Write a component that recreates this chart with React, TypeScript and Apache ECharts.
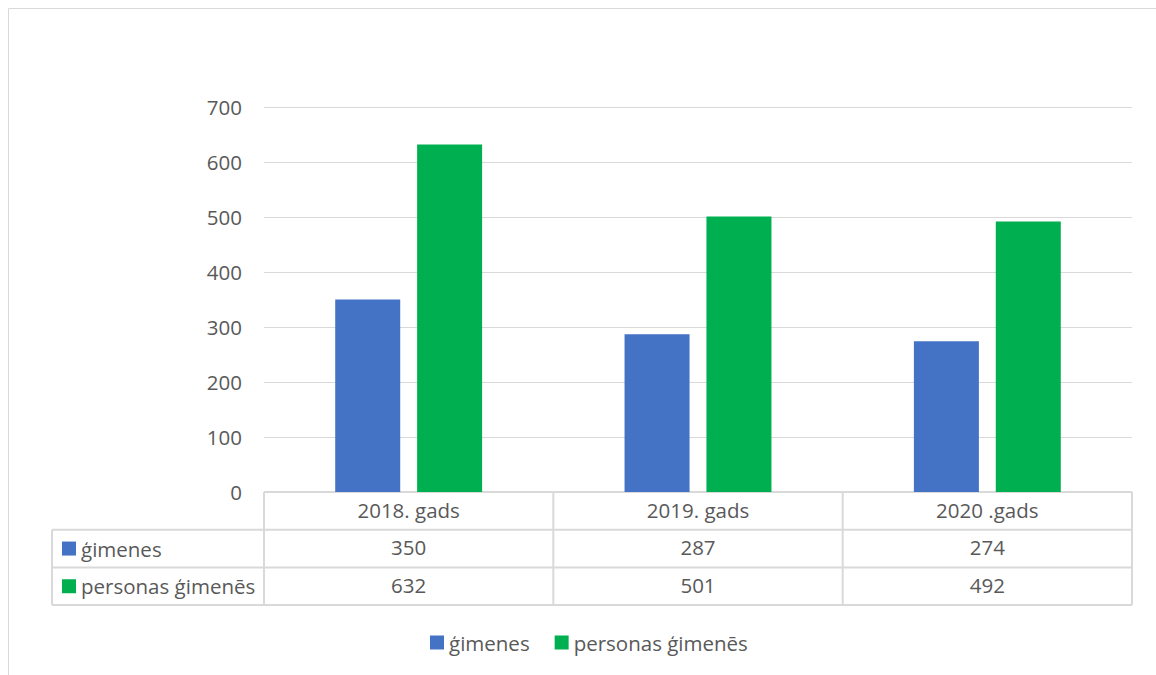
import React, { useEffect, useRef } from "react";
import * as echarts from "echarts";

const categories = ["2018. gads", "2019. gads", "2020 .gads"];
const seriesNames = ["ģimenes", "personas ģimenēs"];
const familyValues = [350, 287, 274];
const personValues = [632, 501, 492];
const colors = ["#4472C4", "#00B050"];

const W = 1156;
const H = 675;
const GL = 264;
const GR = 1132;
const GT = 107;
const GB = 492;
const ROW = 37.7;
const TABLE_LEFT = 52;
const FONT = "'Open Sans', sans-serif";
const FS = 20.5;
const TXT = "#595959";
const LINE = "#d9d9d9";

export default function App() {
  const ref = useRef<HTMLDivElement>(null);
  useEffect(() => {
    if (!ref.current) return;
    const chart = echarts.init(ref.current, null, { renderer: "svg" });
    const catW = (GR - GL) / categories.length;
    const rows = [GB, GB + ROW, GB + 2 * ROW, GB + 3 * ROW];
    const graphics: any[] = [];
    graphics.push({
      type: "rect",
      shape: { x: 8.5, y: 8.5, width: 1200, height: 720 },
      style: { fill: "none", stroke: LINE, lineWidth: 1 },
      silent: true,
    });
    graphics.push({ type: "line", shape: { x1: GL, y1: rows[0], x2: GR, y2: rows[0] }, style: { stroke: LINE, lineWidth: 2 } });
    for (let i = 1; i < 4; i++) {
      graphics.push({ type: "line", shape: { x1: TABLE_LEFT, y1: rows[i], x2: GR, y2: rows[i] }, style: { stroke: LINE, lineWidth: 2 } });
    }
    graphics.push({ type: "line", shape: { x1: TABLE_LEFT, y1: rows[1], x2: TABLE_LEFT, y2: rows[3] }, style: { stroke: LINE, lineWidth: 2 } });
    for (let i = 0; i <= categories.length; i++) {
      const x = GL + i * catW;
      graphics.push({ type: "line", shape: { x1: x, y1: rows[0], x2: x, y2: rows[3] }, style: { stroke: LINE, lineWidth: 2 } });
    }
    seriesNames.forEach((name, i) => {
      const yc = (rows[i + 1] + rows[i + 2]) / 2;
      graphics.push({ type: "rect", shape: { x: 62, y: yc - 7, width: 14, height: 14 }, style: { fill: colors[i] } });
      graphics.push({
        type: "text",
        x: 81,
        y: yc,
        style: { text: name, font: `${FS}px ${FONT}`, fill: TXT, verticalAlign: "middle", align: "left" },
      });
    });

    const valueRows = [familyValues, personValues];
    const xAxes: any[] = [
      {
        type: "category",
        data: categories,
        position: "bottom",
        axisLine: { show: false },
        axisTick: { show: false },
        axisLabel: { color: TXT, fontSize: FS, fontFamily: FONT, margin: 7, interval: 0 },
      },
      ...valueRows.map((vals, i) => ({
        type: "category",
        data: vals.map(String),
        position: "bottom",
        offset: ROW * (i + 1),
        axisLine: { show: false },
        axisTick: { show: false },
        axisLabel: { color: TXT, fontSize: FS, fontFamily: FONT, margin: 7, interval: 0 },
      })),
    ];

    chart.setOption({
      animation: false,
      grid: { left: GL, right: W - GR, top: GT, bottom: H - GB, containLabel: false },
      legend: {
        left: 425,
        top: 627,
        itemWidth: 14,
        itemHeight: 14,
        itemGap: 25,
        icon: "rect",
        textStyle: { color: TXT, fontSize: FS, fontFamily: FONT },
        data: seriesNames,
      },
      xAxis: xAxes,
      yAxis: {
        type: "value",
        min: 0,
        max: 700,
        interval: 100,
        axisLine: { show: false },
        axisTick: { show: false },
        axisLabel: { color: TXT, fontSize: FS, fontFamily: FONT, margin: 22 },
        splitLine: { lineStyle: { color: LINE, width: 1 } },
      },
      series: [
        { name: seriesNames[0], type: "bar", data: familyValues, itemStyle: { color: colors[0] }, barWidth: 65, barGap: "26%" },
        { name: seriesNames[1], type: "bar", data: personValues, itemStyle: { color: colors[1] }, barWidth: 65, barGap: "26%" },
      ],
      graphic: graphics,
    });
    return () => chart.dispose();
  }, []);
  return <div ref={ref} style={{ position: "fixed", left: 0, top: 0, width: W, height: H, background: "#fff" }} />;
}
